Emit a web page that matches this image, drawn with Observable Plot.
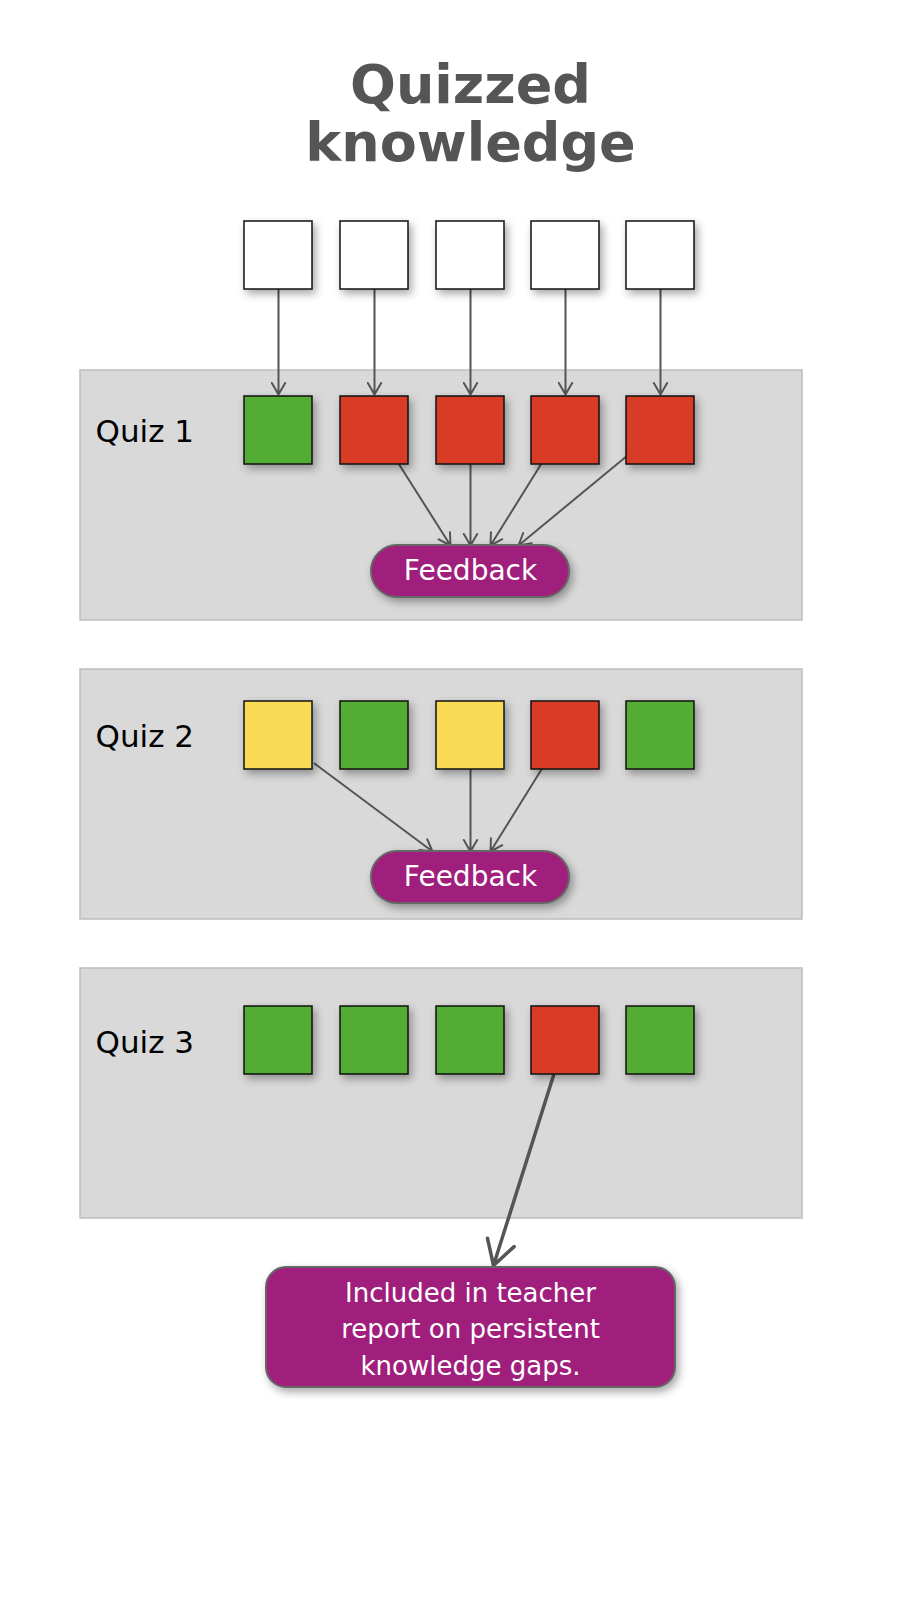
<!DOCTYPE html>
<html><head><meta charset="utf-8">
<script src="https://cdn.jsdelivr.net/npm/d3@7"></script>
<script src="https://cdn.jsdelivr.net/npm/@observablehq/plot@0.6"></script>
<style>
body{margin:0;background:#fff}
g.shadow rect{filter:drop-shadow(3px 4px 4px rgba(0,0,0,0.35))}
</style></head><body>
<div id="chart"></div>
<script>
const title = ["Quizzed", "knowledge"];
const colX = [278, 374, 470, 565, 660];
const rowY = {top: 255, q1: 430, q2: 735, q3: 1040};
const quiz1 = ["green","red","red","red","red"];
const quiz2 = ["yellow","green","yellow","red","green"];
const quiz3 = ["green","green","green","red","green"];
const palette = {white:"#ffffff", green:"#53ac33", red:"#d93c26", yellow:"#f8da57"};
const panels = [{label:"Quiz 1", y1:370, y2:620, ly:432},{label:"Quiz 2", y1:669, y2:919, ly:737},{label:"Quiz 3", y1:968, y2:1218, ly:1043}];
const feedback = [{y:571},{y:877}];
const arrowsThin = [
 [278,289,278,394],[374,289,374,394],[470,289,470,394],[565,289,565,394],[660,289,660,394],
 [398,463,450,545],[470,463,470,545],[541,463,490,545],[627,455,518,545],
 [314,763,432,851],[470,769,470,851],[541,769,490,851]
];
const arrowThick = [[553,1075,493,1265]];
const reportLines = ["Included in teacher","report on persistent","knowledge gaps."];

const half = 34;
const squares = [];
colX.forEach((x,i)=>squares.push({x, y:rowY.top, c:"white"}));
quiz1.forEach((c,i)=>squares.push({x:colX[i], y:rowY.q1, c}));
quiz2.forEach((c,i)=>squares.push({x:colX[i], y:rowY.q2, c}));
quiz3.forEach((c,i)=>squares.push({x:colX[i], y:rowY.q3, c}));
const toArrow = a => ({x1:a[0],y1:a[1],x2:a[2],y2:a[3]});
const font = "DejaVu Sans, Verdana, sans-serif";

const plot = Plot.plot({
  width:900, height:1600, margin:0,
  x:{domain:[0,900], range:[0,900], axis:null},
  y:{domain:[0,1600], range:[0,1600], axis:null},
  style:{fontFamily:font, background:"#fff"},
  marks:[
    Plot.rect(panels,{x1:80,x2:802,y1:"y1",y2:"y2",fill:"#d9d9d9",stroke:"#bdbdbd",strokeWidth:1.5}),
    Plot.text(panels,{x:95,y:"ly",text:"label",textAnchor:"start",fontSize:31,fill:"#000"}),
    Plot.arrow(arrowsThin.map(toArrow),{x1:"x1",y1:"y1",x2:"x2",y2:"y2",stroke:"#555",strokeWidth:2,headLength:10}),
    Plot.arrow(arrowThick.map(toArrow),{x1:"x1",y1:"y1",x2:"x2",y2:"y2",stroke:"#555",strokeWidth:3.5,headLength:12}),
    Plot.rect(squares,{x1:d=>d.x-half,x2:d=>d.x+half,y1:d=>d.y-half,y2:d=>d.y+half,fill:d=>palette[d.c],stroke:"#111",strokeWidth:1.5,className:"shadow"}),
    Plot.rect(feedback,{x1:371,x2:569,y1:d=>d.y-26,y2:d=>d.y+26,rx:26,fill:"#a01f7d",stroke:"#666",strokeWidth:2,className:"shadow"}),
    Plot.text(feedback,{x:470,y:"y",text:()=>"Feedback",fontSize:28,fill:"#fff"}),
    Plot.rect([{}],{x1:266,x2:675,y1:1267,y2:1387,rx:20,fill:"#a01f7d",stroke:"#666",strokeWidth:2,className:"shadow"}),
    Plot.text(reportLines,{x:470,y:(d,i)=>1293+i*36.5,text:d=>d,fontSize:26,fill:"#fff"}),
    Plot.text(title,{x:470,y:(d,i)=>85+i*58,text:d=>d,fontSize:54,fontWeight:"bold",fill:"#555"})
  ]
});
document.getElementById("chart").appendChild(plot);
</script></body></html>
